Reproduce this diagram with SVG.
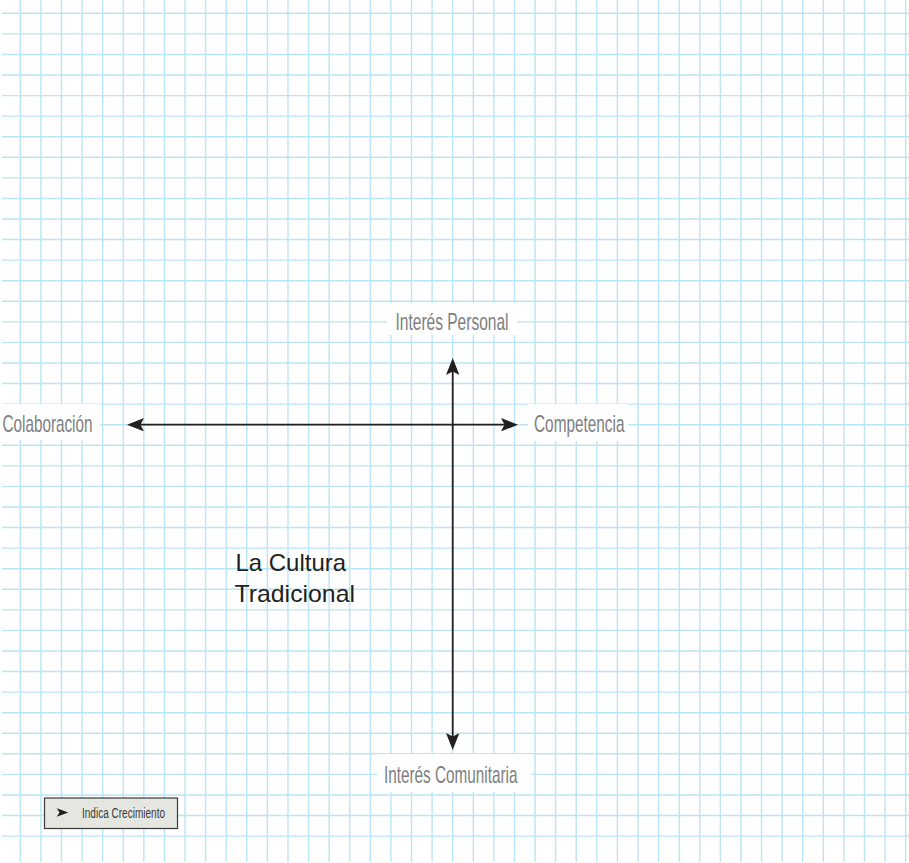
<svg xmlns="http://www.w3.org/2000/svg" width="909" height="863" viewBox="0 0 909 863">
  <style>
    .grid { fill: none; stroke: #bbe4f7; stroke-width: 1.4; }
    .knock { fill: #ffffff; }
    .axis { fill: none; stroke: #231f20; stroke-width: 1.8; }
    .pole { font-family: "Liberation Sans", Arial, sans-serif; font-size: 24px; fill: #7d7e81; }
    .title { font-family: "Liberation Sans", Arial, sans-serif; font-size: 24px; fill: #231f20; }
    .key-box { fill: #e6e6e1; stroke: #3a3a3a; stroke-width: 1.2; }
    .key-text { font-family: "Liberation Sans", Arial, sans-serif; font-size: 14px; fill: #3a3a3a; }
  </style>
  <defs>
    <marker id="head" viewBox="0 0 17 13.4" refX="12" refY="6.7" markerWidth="17" markerHeight="13.4" markerUnits="userSpaceOnUse" orient="auto-start-reverse">
      <path d="M0 0 L17 6.7 L0 13.4 L3.5 6.7 Z" fill="#231f20"/>
    </marker>
  </defs>

  <rect width="909" height="863" fill="#ffffff"/>

  <!-- graph-paper grid: 44 columns, 41 rules -->
  <g id="grid">
    <path class="grid" d="M20.3 0 v862
      m20.59 -862 v862 m20.59 -862 v862 m20.59 -862 v862 m20.59 -862 v862 m20.59 -862 v862
      m20.59 -862 v862 m20.59 -862 v862 m20.59 -862 v862 m20.59 -862 v862 m20.59 -862 v862
      m20.59 -862 v862 m20.59 -862 v862 m20.59 -862 v862 m20.59 -862 v862 m20.59 -862 v862
      m20.59 -862 v862 m20.59 -862 v862 m20.59 -862 v862 m20.59 -862 v862 m20.59 -862 v862
      m20.59 -862 v862 m20.59 -862 v862 m20.59 -862 v862 m20.59 -862 v862 m20.59 -862 v862
      m20.59 -862 v862 m20.59 -862 v862 m20.59 -862 v862 m20.59 -862 v862 m20.59 -862 v862
      m20.59 -862 v862 m20.59 -862 v862 m20.59 -862 v862 m20.59 -862 v862 m20.59 -862 v862
      m20.59 -862 v862 m20.59 -862 v862 m20.59 -862 v862 m20.59 -862 v862 m20.59 -862 v862
      m20.59 -862 v862 m20.59 -862 v862 m20.59 -862 v862"/>
    <path class="grid" d="M2 13.3 h907
      m-907 20.57 h907 m-907 20.57 h907 m-907 20.57 h907 m-907 20.57 h907 m-907 20.57 h907
      m-907 20.57 h907 m-907 20.57 h907 m-907 20.57 h907 m-907 20.57 h907 m-907 20.57 h907
      m-907 20.57 h907 m-907 20.57 h907 m-907 20.57 h907 m-907 20.57 h907 m-907 20.57 h907
      m-907 20.57 h907 m-907 20.57 h907 m-907 20.57 h907 m-907 20.57 h907 m-907 20.57 h907
      m-907 20.57 h907 m-907 20.57 h907 m-907 20.57 h907 m-907 20.57 h907 m-907 20.57 h907
      m-907 20.57 h907 m-907 20.57 h907 m-907 20.57 h907 m-907 20.57 h907 m-907 20.57 h907
      m-907 20.57 h907 m-907 20.57 h907 m-907 20.57 h907 m-907 20.57 h907 m-907 20.57 h907
      m-907 20.57 h907 m-907 20.57 h907 m-907 20.57 h907 m-907 20.57 h907 m-907 20.57 h907"/>
  </g>

  <!-- axes -->
  <g id="connectors">
    <line class="axis" x1="452.7" y1="363" x2="452.7" y2="745" marker-start="url(#head)" marker-end="url(#head)"/>
    <line class="axis" x1="132" y1="424.7" x2="513" y2="424.7" marker-start="url(#head)" marker-end="url(#head)"/>
  </g>

  <!-- pole labels -->
  <g id="interes-personal">
    <rect class="knock" x="387" y="303" width="130" height="32"/>
    <text class="pole" x="395.5" y="330" textLength="113" lengthAdjust="spacingAndGlyphs">Interés Personal</text>
  </g>
  <g id="colaboracion">
    <rect class="knock" x="0" y="404" width="100" height="36"/>
    <text class="pole" x="2.5" y="431.7" textLength="90" lengthAdjust="spacingAndGlyphs">Colaboración</text>
  </g>
  <g id="competencia">
    <rect class="knock" x="528" y="404" width="100" height="37"/>
    <text class="pole" x="534" y="431.7" textLength="90.5" lengthAdjust="spacingAndGlyphs">Competencia</text>
  </g>
  <g id="interes-comunitaria">
    <rect class="knock" x="377" y="754" width="154" height="38"/>
    <text class="pole" x="384" y="783.3" textLength="133.5" lengthAdjust="spacingAndGlyphs">Interés Comunitaria</text>
  </g>

  <!-- quadrant title -->
  <g id="cultura-tradicional">
    <text class="title" x="235.5" y="570.7" textLength="110.5" lengthAdjust="spacingAndGlyphs">La Cultura</text>
    <text class="title" x="234.5" y="601.7" textLength="120.5" lengthAdjust="spacingAndGlyphs">Tradicional</text>
  </g>

  <!-- key -->
  <g id="key">
    <rect class="key-box" x="44.5" y="798" width="133" height="30.5"/>
    <path d="M56.7 808.3 L68.3 812.5 L56.7 816.7 L59.5 812.5 Z" fill="#231f20"/>
    <text class="key-text" x="82" y="817.7" textLength="83" lengthAdjust="spacingAndGlyphs">Indica Crecimiento</text>
  </g>
</svg>
